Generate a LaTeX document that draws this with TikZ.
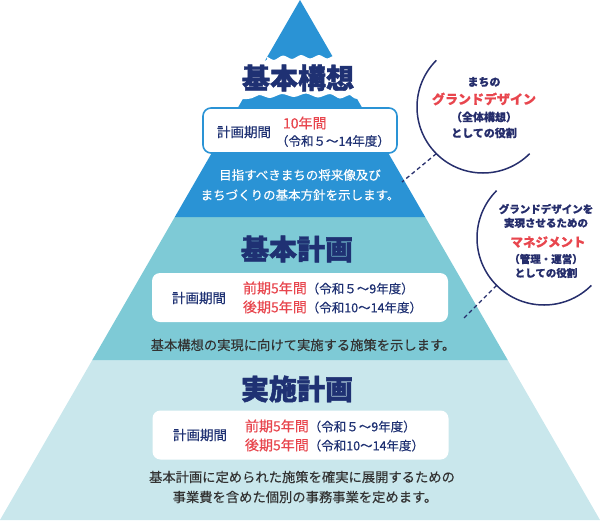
\documentclass[tikz,border=0pt]{standalone}
\usepackage{fontspec}
\newfontfamily\jp[UprightFeatures={FakeBold=0.35}, BoldFeatures={FakeBold=0.6}]{Noto Sans CJK JP}
\newfontfamily\jpheavy[BoldFeatures={FakeBold=1.6}]{Noto Sans CJK JP}
\definecolor{topblue}{HTML}{2A93D5}
\definecolor{midteal}{HTML}{7ECAD6}
\definecolor{lowlight}{HTML}{C9E7EC}
\definecolor{navy}{HTML}{1F3173}
\definecolor{cnavy}{HTML}{262E6C}
\definecolor{redt}{HTML}{E8464E}
\definecolor{darkt}{HTML}{333333}
\newcommand{\fsz}[1]{\fontsize{#1}{#1}\selectfont}
\begin{document}
\begin{tikzpicture}[x=1pt,y=-1pt,
  every node/.style={inner sep=0pt, outer sep=0pt, font=\jp},
  titletext/.style={font=\jpheavy\bfseries\fsz{28}, text=navy},
  periodbox/.style={fill=white, rounded corners=8pt, minimum width=296pt, minimum height=49pt},
  topbox/.style={fill=white, draw=topblue, line width=1.6pt, rounded corners=8pt, minimum width=194pt, minimum height=45pt},
  plabel/.style={font=\jp\fsz{13.5}, text=navy},
  pline/.style={font=\jp\fsz{12.5}, text=navy, anchor=west},
  desc/.style={font=\jp\fsz{13.3}, text=darkt},
  whitedesc/.style={font=\jp\fsz{12.5}, text=white},
  ctext/.style={font=\jp\bfseries\fsz{11}, text=cnavy},
  cred/.style={font=\jp\bfseries\fsz{13}, text=redt},
  circarc/.style={draw=cnavy, line width=1.5pt},
  dashlink/.style={draw=cnavy, line width=1.3pt, dash pattern=on 4pt off 3pt}
]
\useasboundingbox (0,0) rectangle (600,520);

% pyramid layers
\fill[lowlight] (0,520) -- (92.3,360) -- (507.7,360) -- (600,520) -- cycle;
\fill[midteal] (92.3,360) -- (174.8,217) -- (425.2,217) -- (507.7,360) -- cycle;
\fill[topblue] (174.8,217) -- (300,0) -- (425.2,217) -- cycle;

% white torn band behind the top title
\fill[white] plot[smooth] coordinates {(200,61) (262,61) (267,57) (274,60) (283,55.5) (292,59) (301,55) (310,58.5) (319,55) (327,58.5) (334,56) (340,61) (400,61)}
  -- plot[smooth] coordinates {(400,99) (358,99) (350,95) (340,98.5) (330,94) (318,97.5) (306,93.5) (294,97) (282,94) (270,98) (259,95) (247,99) (200,99)} -- cycle;

% titles
\node[titletext] (t1) at (298,78) {基本構想};
\node[titletext] (t2) at (297,249) {基本計画};
\node[titletext] (t3) at (297,389) {実施計画};

% top box
\node[topbox] (b1) at (300,130.5) {};
\node[plabel, anchor=west] (b1l) at (217,132) {計画期間};
\node[font=\jp\fsz{14}, text=redt, anchor=west] (b1a) at (283,123) {10年間};
\node[pline] (b1b) at (276,141) {（令和５～14年度）};
\node[whitedesc] (d1a) at (300,175) {目指すべきまちの将来像及び};
\node[whitedesc] (d1b) at (300,195) {まちづくりの基本方針を示します。};

% middle box
\node[periodbox] (b2) at (300,297.5) {};
\node[plabel, anchor=west] (b2l) at (172,298) {計画期間};
\node[pline] (b2a) at (243,288) {{\fsz{14}\color{redt}前期5年間}（令和５～9年度）};
\node[pline] (b2b) at (243,307) {{\fsz{14}\color{redt}後期5年間}（令和10～14年度）};
\node[desc] (d2) at (303,345) {基本構想の実現に向けて実施する施策を示します。};

% bottom box
\node[periodbox] (b3) at (300.5,435) {};
\node[plabel, anchor=west] (b3l) at (173,435) {計画期間};
\node[pline] (b3a) at (245,426) {{\fsz{14}\color{redt}前期5年間}（令和５～9年度）};
\node[pline] (b3b) at (245,445) {{\fsz{14}\color{redt}後期5年間}（令和10～14年度）};
\node[desc] (d3a) at (302,477) {基本計画に定められた施策を確実に展開するための};
\node[desc] (d3b) at (305,497) {事業費を含めた個別の事務事業を定めます。};

% circle 1
\coordinate (c1) at (483,107);
\draw[circarc] ([shift={(-135:66)}]c1) arc[start angle=-135, end angle=-315, radius=66];
\node[ctext] (c1a) at (484,82) {まちの};
\node[cred] (c1b) at (484,99) {グランドデザイン};
\node[ctext] (c1c) at (484,117) {（全体構想）};
\node[ctext] (c1d) at (484,133) {としての役割};
\coordinate (c1p) at ([shift={(135:66)}]c1);
\coordinate (e1) at (402,182);
\draw[dashlink] (c1p) -- (e1);

% circle 2
\coordinate (c2) at (544,238);
\draw[circarc] ([shift={(-135:67)}]c2) arc[start angle=-135, end angle=-315, radius=67];
\node[ctext, font=\jp\bfseries\fsz{10.5}] (c2a) at (546,209) {グランドデザインを};
\node[ctext, font=\jp\bfseries\fsz{10.5}] (c2b) at (546,223) {実現させるための};
\node[cred, font=\jp\bfseries\fsz{12.5}] (c2c) at (548,242) {マネジメント};
\node[ctext, font=\jp\bfseries\fsz{10.5}] (c2d) at (546,259) {（管理・運営）};
\node[ctext, font=\jp\bfseries\fsz{10.5}] (c2e) at (546,273) {としての役割};
\coordinate (c2p) at ([shift={(135:67)}]c2);
\coordinate (e2) at (462,320);
\draw[dashlink] (c2p) -- (e2);
\end{tikzpicture}
\end{document}
